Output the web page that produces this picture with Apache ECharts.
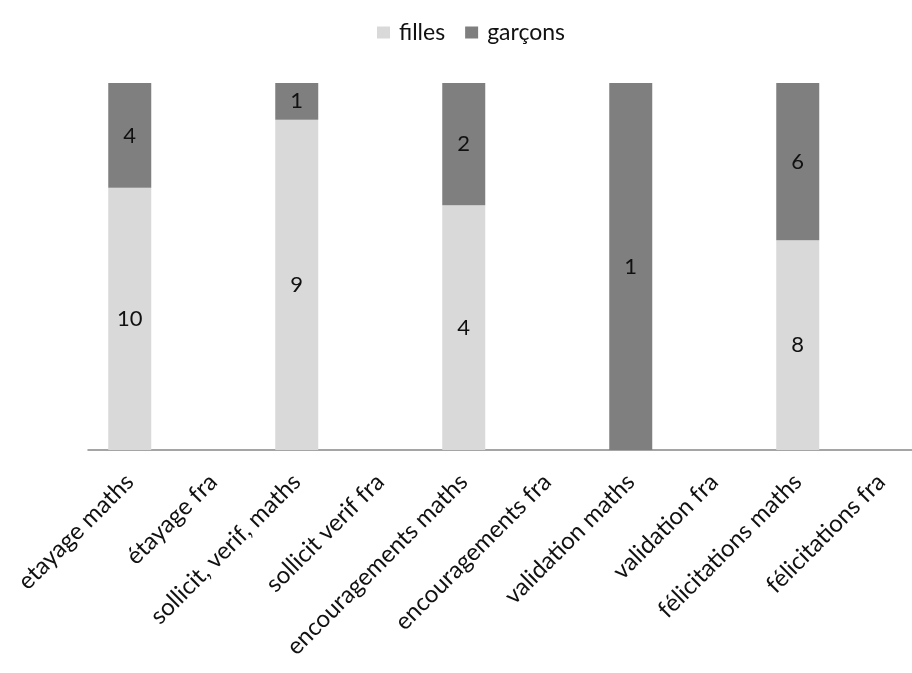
<!DOCTYPE html>
<html>
<head>
<meta charset="utf-8">
<script src="https://cdn.jsdelivr.net/npm/echarts@6/dist/echarts.min.js"></script>
<style>html,body{margin:0;padding:0;background:#fff}#c{width:912px;height:673px}</style>
</head>
<body>
<div id="c"></div>
<script>
const categories = ["etayage maths","étayage fra","sollicit, verif, maths","sollicit verif fra","encouragements maths","encouragements fra","validation maths","validation fra","félicitations maths","félicitations fra"];
const filles = [10, null, 9, null, 4, null, 0, null, 8, null];
const garcons = [4, null, 1, null, 2, null, 1, null, 6, null];

const totals = categories.map((_, i) => (filles[i] || 0) + (garcons[i] || 0));
const pct = (arr) => arr.map((v, i) => (v == null || totals[i] === 0) ? null : { value: v / totals[i] * 100, raw: v });

const font = "Lato, 'Open Sans', sans-serif";
const chart = echarts.init(document.getElementById('c'));
chart.setOption({
  animation: false,
  textStyle: { fontFamily: font },
  legend: {
    top: 16, left: 372, itemWidth: 13, itemHeight: 12, itemGap: 20,
    textStyle: { fontSize: 23, color: '#111', fontFamily: font, padding: [0, 0, 0, 4] },
    icon: 'rect',
    data: ['filles', 'garçons']
  },
  grid: { left: 88, width: 835, top: 83, height: 367, outerBoundsMode: 'none', containLabel: false },
  xAxis: {
    type: 'category', data: categories,
    axisLine: { lineStyle: { color: '#888', width: 1.5 } },
    axisTick: { show: false },
    axisLabel: { rotate: 45, interval: 0, fontSize: 24, color: '#111', fontFamily: font, margin: 28 }
  },
  yAxis: { type: 'value', min: 0, max: 100, show: false, splitLine: { show: false } },
  series: [
    { name: 'filles', type: 'bar', stack: 's', barWidth: 43, data: pct(filles),
      itemStyle: { color: '#d9d9d9' },
      label: { show: true, position: 'inside', fontSize: 22, color: '#111', fontFamily: font,
        formatter: p => (p.data && p.data.raw) ? String(p.data.raw) : '' } },
    { name: 'garçons', type: 'bar', stack: 's', barWidth: 43, data: pct(garcons),
      itemStyle: { color: '#7f7f7f' },
      label: { show: true, position: 'inside', fontSize: 22, color: '#111', fontFamily: font,
        formatter: p => (p.data && p.data.raw) ? String(p.data.raw) : '' } }
  ]
});
</script>
</body>
</html>
